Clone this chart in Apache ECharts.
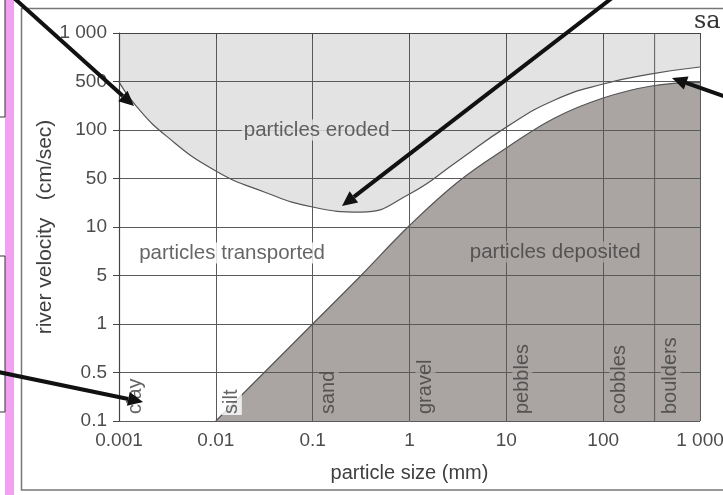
<!DOCTYPE html>
<html><head><meta charset="utf-8">
<script src="https://cdn.jsdelivr.net/npm/echarts@6/dist/echarts.min.js"></script>
<style>html,body{margin:0;padding:0;background:#fff}#c{width:723px;height:495px}</style>
</head><body><div id="c"></div>
<script>
// ---- data ----
const yTickValues = [1000, 500, 100, 50, 10, 5, 1, 0.5, 0.1];
const yTickLabels = ['1 000', '500', '100', '50', '10', '5', '1', '0.5', '0.1'];
const xTickLabels = ['0.001', '0.01', '0.1', '1', '10', '100', '1 000'];

const erosionSize     = [0.001, 0.0015, 0.00316, 0.01, 0.0316, 0.1,  0.316, 1,    3.16, 10,  31.6, 100, 316, 1000];
const erosionVelocity = [490,   222,    90.6,    55.7, 32.0,   19.4, 16.4,  29.9, 64.3, 110, 271,  460, 557, 615];

const depositionSize     = [0.01, 0.0316, 0.1, 0.316, 1,    3.16, 10,   31.6, 100, 316, 1000];
const depositionVelocity = [0.1,  0.5,    1,   5,     10.5, 44.6, 77.3, 149,  289, 431, 490];

const regionLabels        = ['particles eroded', 'particles transported', 'particles deposited'];
const regionLabelSize     = [0.11, 0.0147, 32];
const regionLabelVelocity = [100, 6.9, 7];

const sizeClasses      = ['clay', 'silt', 'sand', 'gravel', 'pebbles', 'cobbles', 'boulders'];
const sizeClassStart   = [0.001, 0.01, 0.1, 1, 10, 100, 340];
const boulderBoundary  = [340, 340];
const boundaryVelocity = [1000, 0.1];

// ---- the chart's stepped velocity scale: equal spacing between tick values ----
function vToPos(v) {
  const lv = Math.log10(v);
  for (let i = 0; i < yTickValues.length - 1; i++) {
    const a = Math.log10(yTickValues[i]), b = Math.log10(yTickValues[i + 1]);
    if (lv <= a && lv >= b) return i + (a - lv) / (a - b);
  }
  return lv > Math.log10(yTickValues[0]) ? 0 : yTickValues.length - 1;
}
const zip = (xs, ys) => xs.map((x, i) => [x, vToPos(ys[i])]);

const FONT = 'Liberation Sans';
const TXT = '#3f3f3f';
const ERODED = '#e3e3e3';
const DEPOSITED = '#aaa5a3';

function arrow(x1, y1, x2, y2) {
  const ang = Math.atan2(y2 - y1, x2 - x1), L = 15, W = 7;
  const bx = x2 - L * Math.cos(ang), by = y2 - L * Math.sin(ang);
  const px = -Math.sin(ang) * W, py = Math.cos(ang) * W;
  return [
    {type: 'line', z: 100, shape: {x1, y1, x2: bx, y2: by}, style: {stroke: '#111', lineWidth: 4}},
    {type: 'polygon', z: 100, shape: {points: [[x2, y2], [bx + px, by + py], [bx - px, by - py]]}, style: {fill: '#111'}}
  ];
}

const chart = echarts.init(document.getElementById('c'), null, {renderer: 'canvas'});
chart.setOption({
  animation: false,
  backgroundColor: '#fff',
  grid: {left: 119, right: 23, top: 33, bottom: 74, containLabel: false, outerBoundsMode: 'none',
         show: true, backgroundColor: '#fff', borderWidth: 0},
  xAxis: {
    type: 'log', logBase: 10, min: 0.001, max: 1000, splitNumber: 6, z: 3,
    name: 'particle size (mm)', nameLocation: 'middle', nameGap: 42, nameMoveOverlap: false,
    nameTextStyle: {fontFamily: FONT, fontSize: 20, color: TXT},
    axisLine: {show: true, lineStyle: {color: '#444', width: 1.2}},
    axisTick: {show: true, length: 6, lineStyle: {color: '#444'}},
    minorTick: {show: false},
    splitLine: {show: true, lineStyle: {color: '#5a5a5a', width: 1}},
    axisLabel: {fontFamily: FONT, fontSize: 19, color: '#4d4d4d', margin: 10,
      formatter: v => xTickLabels[Math.round(Math.log10(v)) + 3]}
  },
  yAxis: {
    type: 'value', min: 0, max: 8, interval: 1, inverse: true, z: 3,
    name: 'river velocity   (cm/sec)', nameLocation: 'middle', nameGap: 63, nameRotate: 90,
    nameMoveOverlap: false,
    nameTextStyle: {fontFamily: FONT, fontSize: 21, color: TXT},
    axisLine: {show: true, lineStyle: {color: '#444', width: 1.2}},
    axisTick: {show: true, length: 6, lineStyle: {color: '#444'}},
    splitLine: {show: true, lineStyle: {color: '#5a5a5a', width: 1}},
    axisLabel: {fontFamily: FONT, fontSize: 19, color: '#4d4d4d', margin: 12,
      formatter: v => yTickLabels[Math.round(v)]}
  },
  series: [
    {
      name: 'erosion', type: 'line', smooth: 0.5, symbol: 'none', z: 2,
      data: zip(erosionSize, erosionVelocity),
      lineStyle: {color: '#555', width: 1.2},
      areaStyle: {color: ERODED, opacity: 1, origin: 'start'}
    },
    {
      name: 'deposition', type: 'line', smooth: 0.4, symbol: 'none', z: 2,
      data: zip(depositionSize, depositionVelocity),
      lineStyle: {color: '#555', width: 1.2},
      areaStyle: {color: DEPOSITED, opacity: 1, origin: 'end'}
    },
    {
      name: 'boulder boundary', type: 'line', symbol: 'none', z: 4,
      data: zip(boulderBoundary, boundaryVelocity),
      lineStyle: {color: '#5a5a5a', width: 1}
    },
    {
      name: 'regions', type: 'scatter', symbolSize: 0, z: 6, silent: true,
      data: regionLabels.map((t, i) => ({
        name: t, value: [regionLabelSize[i], vToPos(regionLabelVelocity[i])],
        label: {backgroundColor: [ERODED, '#fff', DEPOSITED][i]}
      })),
      label: {show: true, position: 'inside', formatter: '{b}', fontFamily: FONT, fontSize: 20.5,
        color: TXT, padding: [0, 2]}
    },
    {
      name: 'size classes', type: 'scatter', symbolSize: 0, z: 6, silent: true,
      data: sizeClasses.map((t, i) => ({
        name: t, value: [sizeClassStart[i], vToPos(0.1)],
        label: {backgroundColor: (i < 2) ? '#fff' : DEPOSITED}
      })),
      label: {show: true, position: [16, -6], rotate: 90, align: 'left', verticalAlign: 'middle',
        formatter: '{b}', fontFamily: FONT, fontSize: 20, color: TXT, padding: [0, 1]}
    }
  ],
  graphic: [
    {type: 'rect', z: 100, shape: {x: 5, y: 0, width: 9, height: 495}, style: {fill: '#f2a0f0'}},
    {type: 'rect', z: 100, shape: {x: -2, y: -2, width: 7, height: 119}, style: {fill: '#fff', stroke: '#333', lineWidth: 1}},
    {type: 'rect', z: 100, shape: {x: -2, y: 256, width: 7, height: 156}, style: {fill: '#fff', stroke: '#333', lineWidth: 1}},
    {type: 'rect', z: 100, shape: {x: 21.5, y: 8.5, width: 712, height: 481.5}, style: {fill: null, stroke: '#777', lineWidth: 1.5}},
    {type: 'text', z: 100, x: 694, y: 10, style: {text: 'sa', font: '24px "DejaVu Serif"', fill: '#333'}},
    ...arrow(14, -2, 134, 106),
    ...arrow(612, -2, 342, 206),
    ...arrow(726, 97, 672, 78),
    ...arrow(-2, 372, 143, 402)
  ]
});
</script>
</body></html>
